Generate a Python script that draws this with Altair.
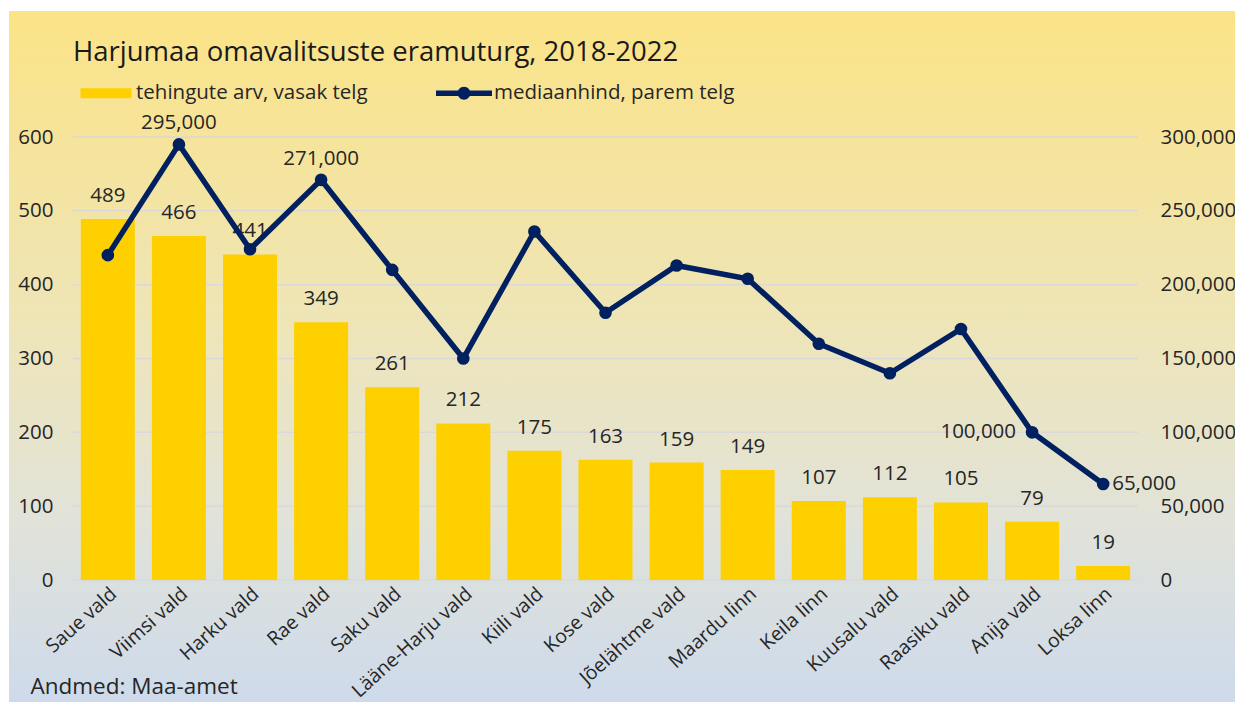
import altair as alt
import pandas as pd

municipalities = ["Saue vald", "Viimsi vald", "Harku vald", "Rae vald", "Saku vald",
                  "Lääne-Harju vald", "Kiili vald", "Kose vald", "Jõelähtme vald",
                  "Maardu linn", "Keila linn", "Kuusalu vald", "Raasiku vald",
                  "Anija vald", "Loksa linn"]
transactions = [489, 466, 441, 349, 261, 212, 175, 163, 159, 149, 107, 112, 105, 79, 19]
median_price = [220000, 295000, 224000, 271000, 210000, 150000, 236000, 181000,
                213000, 204000, 160000, 140000, 170000, 100000, 65000]
left_ticks = [0, 100, 200, 300, 400, 500, 600]
right_ticks = [0, 50000, 100000, 150000, 200000, 250000, 300000]
series_names = ["tehingute arv, vasak telg", "mediaanhind, parem telg"]
labels_above = ["Viimsi vald", "Rae vald"]
label_left = ["Anija vald"]
label_right = ["Loksa linn"]

title_text = "Harjumaa omavalitsuste eramuturg, 2018-2022"
source_text = "Andmed: Maa-amet"

FONT = "Open Sans"
FS = 20.5
TXT = "#262626"
BAR = "#FFD000"
NAVY = "#002060"
W, H = 1065, 443

df = pd.DataFrame({
    "kommune": municipalities,
    "tehingud": transactions,
    "hind": median_price,
})
df["hind_lbl"] = df["hind"].map(lambda v: f"{v:,}")

xsc = alt.Scale(domain=municipalities, paddingInner=0.24, paddingOuter=0.11)
lsc = alt.Scale(domain=[0, 600], nice=False)
rsc = alt.Scale(domain=[0, 300000], nice=False)

x_enc = alt.X("kommune:N", sort=municipalities, scale=xsc,
              axis=alt.Axis(title=source_text, labelAngle=-42, labelFontSize=19.5,
                            labelFont=FONT, labelColor=TXT, labelPadding=4,
                            domain=False, ticks=False, grid=False, zindex=1,
                            titleX=-43, titleY=113, titleAlign="left",
                            titleBaseline="alphabetic", titleAnchor="start",
                            titleFont=FONT, titleFontSize=22.5, titleFontWeight="normal",
                            titleColor=TXT))
x_plain = alt.X("kommune:N", sort=municipalities, scale=xsc)

bg = alt.Chart(alt.Data(values=[{}])).mark_rect(
    clip=False,
    color=alt.Gradient(
        gradient="linear", x1=0, x2=0, y1=0, y2=1,
        stops=[alt.GradientStop(offset=0, color="#FBE386"),
               alt.GradientStop(offset=0.45, color="#EEE5B8"),
               alt.GradientStop(offset=0.72, color="#E2E3D8"),
               alt.GradientStop(offset=1, color="#CDDAEC")]),
).encode(x=alt.value(-64), x2=alt.value(1170), y=alt.value(-126), y2=alt.value(573))

grid = alt.Chart(pd.DataFrame({"v": left_ticks})).mark_rule(
    color="#D9D9D9", strokeWidth=1.5
).encode(y=alt.Y("v:Q", scale=lsc, axis=None))

bars = alt.Chart(df).mark_bar(color=BAR).encode(
    x=x_enc,
    y=alt.Y("tehingud:Q", scale=lsc,
            axis=alt.Axis(orient="left", values=left_ticks, title=None, grid=False,
                          domain=False, ticks=False, labelPadding=20, labelFontSize=FS,
                          labelFont=FONT, labelColor=TXT, zindex=1)),
)

bar_labels = alt.Chart(df).mark_text(
    dy=-17, baseline="alphabetic", fontSize=FS, font=FONT, color=TXT
).encode(x=x_plain, y=alt.Y("tehingud:Q", scale=lsc, axis=None), text="tehingud:Q")

line = alt.Chart(df).mark_line(color=NAVY, strokeWidth=5.5).encode(
    x=x_plain,
    y=alt.Y("hind:Q", scale=rsc,
            axis=alt.Axis(orient="right", values=right_ticks, format=",d", title=None,
                          grid=False, domain=False, ticks=False, labelPadding=22,
                          labelFontSize=FS, labelFont=FONT, labelColor=TXT, zindex=1)),
)

points = alt.Chart(df).mark_circle(color=NAVY, size=160, opacity=1).encode(
    x=x_plain, y=alt.Y("hind:Q", scale=rsc, axis=None))

lab_above = alt.Chart(df).transform_filter(
    alt.FieldOneOfPredicate(field="kommune", oneOf=labels_above)
).mark_text(dy=-15, baseline="alphabetic", fontSize=FS, font=FONT, color=TXT).encode(
    x=x_plain, y=alt.Y("hind:Q", scale=rsc, axis=None), text="hind_lbl:N")

lab_left = alt.Chart(df).transform_filter(
    alt.FieldOneOfPredicate(field="kommune", oneOf=label_left)
).mark_text(dx=-16, align="right", baseline="middle", fontSize=FS, font=FONT,
            color=TXT).encode(
    x=x_plain, y=alt.Y("hind:Q", scale=rsc, axis=None), text="hind_lbl:N")

lab_right = alt.Chart(df).transform_filter(
    alt.FieldOneOfPredicate(field="kommune", oneOf=label_right)
).mark_text(dx=9, align="left", baseline="middle", fontSize=FS, font=FONT,
            color=TXT).encode(
    x=x_plain, y=alt.Y("hind:Q", scale=rsc, axis=None), text="hind_lbl:N")

bar_sym = "M-0.91,-0.18H0.91V0.18H-0.91Z"
line_sym = ("M-1,-0.1H1V0.1H-1Z"
            "M0.23,0A0.23,0.23,0,1,1,-0.23,0A0.23,0.23,0,1,1,0.23,0Z")

leg = alt.Legend(title=None, orient="none", legendX=5, legendY=-72, direction="horizontal",
                 symbolSize=3136, symbolStrokeWidth=0, symbolOpacity=1, symbolOffset=0,
                 labelOffset=2, labelFontSize=FS, labelFont=FONT, labelColor=TXT,
                 columnPadding=68, padding=0, labelLimit=400, zindex=1)

legend_layer = alt.Chart(pd.DataFrame({"series": series_names})).mark_point(
    filled=True, opacity=0
).encode(
    color=alt.Color("series:N", sort=series_names,
                    scale=alt.Scale(domain=series_names, range=[BAR, NAVY]), legend=leg),
    shape=alt.Shape("series:N", sort=series_names,
                    scale=alt.Scale(domain=series_names, range=[bar_sym, line_sym]),
                    legend=leg),
)

chart = alt.layer(
    bg, grid, bars, bar_labels, line, points, lab_above, lab_left, lab_right, legend_layer
).resolve_scale(y="independent").properties(
    width=W, height=H,
    title=alt.TitleParams(title_text, anchor="start", frame="group", fontSize=27.5,
                          font=FONT, fontWeight="normal", color="#1A1A1A", offset=2,
                          dy=57, zindex=1),
    autosize=alt.AutoSizeParams(type="none"),
    padding={"left": 65, "top": 129, "right": 97, "bottom": 122},
).configure_view(stroke=None).configure(background="white")

chart.save("out.html", embed_options={"renderer": "svg", "actions": False})
